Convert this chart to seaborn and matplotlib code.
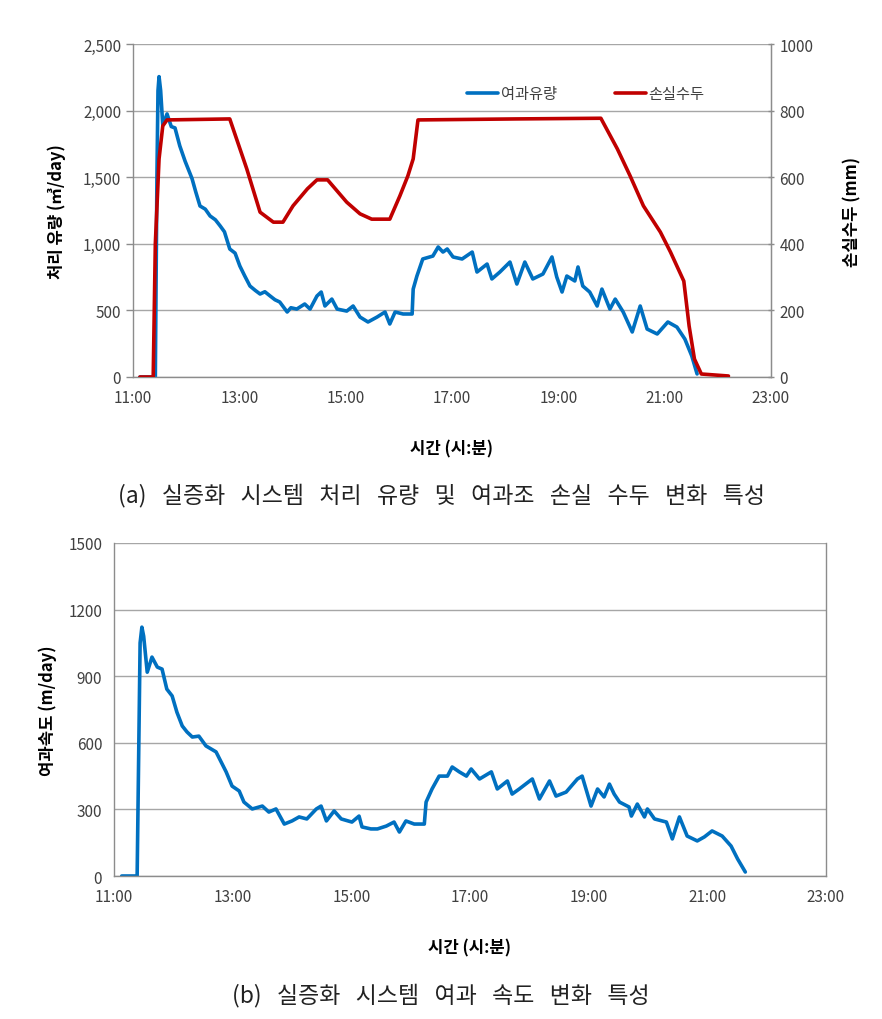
import numpy as np
import pandas as pd
import matplotlib
matplotlib.use("Agg")
import matplotlib.pyplot as plt
import seaborn as sns
from matplotlib.ticker import FuncFormatter, MultipleLocator

# ---------------- data (time in decimal hours) ----------------
flow_time = [11.13, 11.42, 11.45, 11.47, 11.49, 11.52, 11.56, 11.64, 11.72, 11.79, 11.88, 11.98, 12.11, 12.18, 12.26,
             12.36, 12.45, 12.55, 12.64, 12.72, 12.82, 12.92, 13.01, 13.10, 13.20, 13.30, 13.39,
             13.48, 13.58, 13.67, 13.76, 13.90, 13.97, 14.08, 14.23, 14.33, 14.46, 14.54, 14.61,
             14.74, 14.84, 15.02, 15.14, 15.27, 15.42, 15.59, 15.74, 15.83, 15.93, 16.08, 16.25,
             16.27, 16.34, 16.45, 16.64, 16.74, 16.83, 16.91, 17.02, 17.19, 17.38, 17.47, 17.66,
             17.75, 17.90, 18.09, 18.22, 18.37, 18.52, 18.71, 18.88, 18.97, 19.07, 19.16, 19.31,
             19.37, 19.46, 19.59, 19.73, 19.82, 19.97, 20.07, 20.22, 20.39, 20.54, 20.67, 20.86,
             21.06, 21.23, 21.38, 21.51, 21.61]
flow_val = [0, 0, 1500, 2150, 2255, 2150, 1890, 1975, 1880, 1870, 1735, 1620, 1490, 1390, 1284,
            1260, 1209, 1180, 1134, 1090, 961, 930, 833, 760, 683, 650, 623,
            640, 608, 580, 563, 488, 520, 510, 548, 510, 608, 638, 533,
            585, 510, 495, 533, 450, 413, 450, 488, 398, 488, 473, 473,
            660, 758, 886, 908, 976, 938, 961, 901, 886, 938, 788, 848,
            736, 788, 863, 698, 863, 736, 773, 901, 751, 638, 758, 721,
            826, 683, 638, 533, 660, 510, 585, 488, 338, 533, 360, 323,
            413, 375, 285, 158, 23]

head_time = [11.13, 11.38, 11.42, 11.49, 11.56, 11.64, 12.82, 13.14, 13.39, 13.64, 13.82, 14.01,
             14.28, 14.46, 14.66, 15.02, 15.27, 15.49, 15.83, 16.02, 16.17, 16.27, 16.36, 18.20,
             19.80, 20.11, 20.35, 20.60, 20.92, 21.11, 21.36, 21.46, 21.56, 21.69, 22.20]
head_val = [0, 0, 400, 655, 754, 772, 775, 625, 495, 465, 465, 514,
            565, 592, 592, 525, 490, 474, 474, 544, 604, 655, 772, 775,
            777, 685, 604, 514, 435, 375, 288, 153, 54, 9, 3]

vel_time = [11.13, 11.39, 11.44, 11.47, 11.50, 11.56, 11.64, 11.73, 11.81, 11.89, 11.98, 12.06, 12.15, 12.23, 12.32,
            12.43, 12.55, 12.72, 12.89, 12.99, 13.11, 13.19, 13.33, 13.50, 13.61, 13.73, 13.87,
            14.00, 14.12, 14.25, 14.41, 14.49, 14.58, 14.71, 14.83, 15.01, 15.13, 15.18, 15.33,
            15.44, 15.59, 15.72, 15.81, 15.92, 16.06, 16.23, 16.26, 16.36, 16.48, 16.62, 16.70,
            16.82, 16.94, 17.02, 17.16, 17.36, 17.46, 17.63, 17.71, 17.83, 18.05, 18.17, 18.34,
            18.45, 18.62, 18.81, 18.89, 19.04, 19.15, 19.26, 19.35, 19.43, 19.52, 19.68, 19.72,
            19.82, 19.94, 19.99, 20.11, 20.31, 20.41, 20.53, 20.66, 20.83, 20.95, 21.08, 21.25,
            21.40, 21.51, 21.64]
vel_val = [0, 0, 1050, 1121, 1080, 918, 986, 941, 932, 842, 811, 738, 676, 649, 626,
           630, 586, 559, 469, 405, 383, 333, 302, 315, 288, 302, 234,
           248, 266, 257, 302, 315, 248, 293, 257, 243, 270, 221, 212,
           212, 225, 243, 198, 248, 234, 234, 333, 392, 450, 450, 491,
           469, 450, 482, 437, 469, 392, 428, 369, 392, 437, 347, 428,
           360, 378, 437, 450, 315, 392, 356, 414, 369, 333, 311, 270,
           324, 266, 302, 257, 243, 167, 266, 180, 158, 176, 203, 180,
           135, 77, 18]

xticks = [11, 13, 15, 17, 19, 21, 23]
xtick_labels = ["11:00", "13:00", "15:00", "17:00", "19:00", "21:00", "23:00"]

BLUE = "#0070C0"
RED = "#C00000"
GRID = "#a6a6a6"
TXT = "#404040"

sns.set_style("white")
plt.rcParams["font.family"] = ["Noto Sans CJK KR", "DejaVu Sans"]

fig = plt.figure(figsize=(8.82, 10.2), dpi=100)

def style_axis(ax):
    for s in ["left", "bottom", "top", "right"]:
        ax.spines[s].set_color("#8c8c8c")
        ax.spines[s].set_linewidth(1.0)
    ax.spines["top"].set_visible(False)
    ax.grid(axis="y", color=GRID, lw=1.0)
    ax.grid(axis="x", visible=False)
    ax.set_axisbelow(True)
    ax.tick_params(axis="both", colors="#8c8c8c", labelcolor=TXT, labelsize=11,
                   length=5, width=1, direction="out")
    ax.set_xlim(11, 23)
    ax.set_xticks(xticks)
    ax.set_xticklabels(xtick_labels)

# ---------------- top chart ----------------
ax1 = fig.add_axes([133/882, 1 - 378/1020, 638/882, 333/1020])
df_flow = pd.DataFrame({"t": flow_time, "v": flow_val})
df_head = pd.DataFrame({"t": head_time, "v": head_val})
sns.lineplot(data=df_flow, x="t", y="v", ax=ax1, color=BLUE, lw=2.6, label="여과유량", legend=False)
ax1.set_ylim(0, 2500)
ax1.yaxis.set_major_locator(MultipleLocator(500))
ax1.yaxis.set_major_formatter(FuncFormatter(lambda v, p: f"{int(v):,}"))
style_axis(ax1)
ax1.set_xlabel("시간 (시:분)", fontsize=12, fontweight="bold", labelpad=24, color="black")
ax1.set_ylabel("처리 유량 (㎥/day)", fontsize=12, fontweight="bold", labelpad=12, color="black")

ax2 = ax1.twinx()
sns.lineplot(data=df_head, x="t", y="v", ax=ax2, color=RED, lw=2.6, label="손실수두", legend=False)
ax2.set_ylim(0, 1000)
ax2.yaxis.set_major_locator(MultipleLocator(200))
for s in ["left", "bottom", "top", "right"]:
    ax2.spines[s].set_visible(False)
ax2.spines["right"].set_visible(True)
ax2.spines["right"].set_color("#8c8c8c")
ax2.tick_params(axis="y", colors="#8c8c8c", labelcolor=TXT, labelsize=11, length=5,
                width=1, direction="inout")
ax2.grid(False)
ax2.set_xlim(11, 23)
ax2.set_xlabel("")
ax2.set_ylabel("손실수두 (mm)", fontsize=12, fontweight="bold", labelpad=22, color="black")

h1, l1 = ax1.get_legend_handles_labels()
h2, l2 = ax2.get_legend_handles_labels()
ax2.legend(h1 + h2, l1 + l2, loc="center", bbox_to_anchor=(0.71, 0.85), ncol=2,
           frameon=False, fontsize=11, handlelength=2.0, columnspacing=3.8,
           handletextpad=0.2, labelcolor=TXT)

# ---------------- bottom chart ----------------
ax3 = fig.add_axes([114/882, 1 - 877/1020, 712/882, 333/1020])
df_vel = pd.DataFrame({"t": vel_time, "v": vel_val})
sns.lineplot(data=df_vel, x="t", y="v", ax=ax3, color=BLUE, lw=2.6, legend=False)
ax3.set_ylim(0, 1500)
ax3.yaxis.set_major_locator(MultipleLocator(300))
style_axis(ax3)
ax3.spines["right"].set_visible(True)
ax3.set_xlabel("시간 (시:분)", fontsize=12, fontweight="bold", labelpad=24, color="black")
ax3.set_ylabel("여과속도 (m/day)", fontsize=12, fontweight="bold", labelpad=8, color="black")

# ---------------- captions ----------------
cap_a = "   ".join(["(a)", "실증화", "시스템", "처리", "유량", "및", "여과조", "손실", "수두", "변화", "특성"])
cap_b = "   ".join(["(b)", "실증화", "시스템", "여과", "속도", "변화", "특성"])
fig.text(0.5, 1 - 495/1020, cap_a, ha="center", va="center", fontsize=16.5, color="#222222")
fig.text(0.5, 1 - 995/1020, cap_b, ha="center", va="center", fontsize=16.5, color="#222222")

fig.savefig("out.png", dpi=100)
